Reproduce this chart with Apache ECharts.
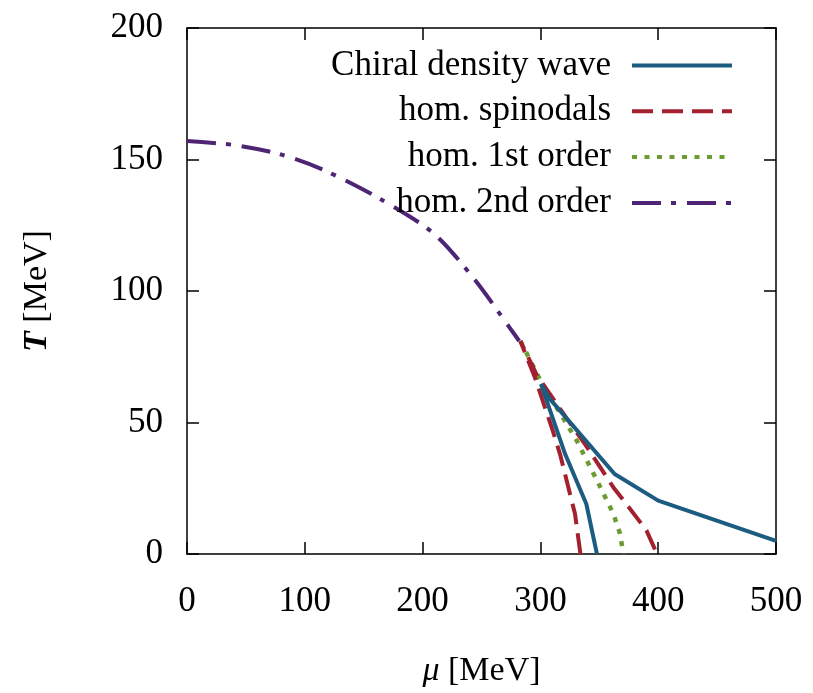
<!DOCTYPE html>
<html>
<head>
<meta charset="utf-8">
<script src="https://cdn.jsdelivr.net/npm/echarts@6/dist/echarts.min.js"></script>
<style>html,body{margin:0;padding:0;background:#fff;}#c{width:813px;height:693px;}</style>
</head>
<body>
<div id="c"></div>
<script>
// Data (mu [MeV], T [MeV])
const cdwMu = [348, 339, 321, 300.5, 308, 363, 400, 500];
const cdwT  = [0, 19, 38, 64.6, 59, 30.4, 20.3, 5];

const spinMu = [334, 329.4, 316.7, 309.7, 295.5, 283, 297, 324, 339, 362, 373, 390, 399];
const spinT  = [0, 15.2, 37.9, 48, 66.9, 81, 68, 50.5, 41, 25.3, 19, 9, 0];

const firstMu = [283, 300, 331, 348, 362, 367.6, 370.4];
const firstT  = [81, 66, 43, 28, 15.2, 7.7, 0];

const secondMu = [0, 40, 79, 116, 164, 209, 243, 274, 282];
const secondT  = [157, 155.5, 152, 146, 135, 122, 105, 86, 81];

const seriesNames = ['Chiral density wave', 'hom. spinodals', 'hom. 1st order', 'hom. 2nd order'];
const xTicks = [0, 500, 100];
const yTicks = [0, 200, 50];

const pairs = (xs, ys) => xs.map((x, i) => [x, ys[i]]);

const FONT = '"Liberation Serif", "DejaVu Serif", serif';
const chart = echarts.init(document.getElementById('c'), null, {renderer: 'canvas'});

const mkLine = () => ({show: true, onZero: false, lineStyle: {color: '#000', width: 1.5}});
const mkTick = () => ({show: true, inside: true, length: 12, lineStyle: {color: '#000', width: 1.5}});

chart.setOption({
  animation: false,
  backgroundColor: '#fff',
  grid: {left: 187, right: 37, top: 28, bottom: 136, containLabel: false},
  legend: {
    orient: 'vertical',
    align: 'right',
    right: 74,
    top: 43,
    itemWidth: 100,
    itemHeight: 14,
    itemGap: 10.8,
    data: seriesNames,
    itemStyle: {color: 'rgba(0,0,0,0)', borderWidth: 0, borderColor: 'rgba(0,0,0,0)'},
    lineStyle: {width: 4},
    textStyle: {fontFamily: FONT, fontSize: 35, color: '#000', lineHeight: 34, padding: [0, 16, 0, 0]}
  },
  xAxis: [{
    type: 'value', min: xTicks[0], max: xTicks[1], interval: xTicks[2],
    position: 'bottom',
    axisLine: mkLine(), axisTick: mkTick(), splitLine: {show: false},
    axisLabel: {fontFamily: FONT, fontSize: 35, color: '#000', margin: 30},
    name: '{i|μ} [MeV]', nameLocation: 'middle', nameGap: 100,
    nameTextStyle: {fontFamily: FONT, fontSize: 34, color: '#000', rich: {i: {fontFamily: FONT, fontSize: 34, fontStyle: 'italic', color: '#000'}}}
  }, {
    type: 'value', min: xTicks[0], max: xTicks[1], interval: xTicks[2],
    position: 'top', show: true,
    axisLine: mkLine(), axisTick: mkTick(), splitLine: {show: false}, axisLabel: {show: false}
  }],
  yAxis: [{
    type: 'value', min: yTicks[0], max: yTicks[1], interval: yTicks[2],
    position: 'left',
    axisLine: mkLine(), axisTick: mkTick(), splitLine: {show: false},
    axisLabel: {fontFamily: FONT, fontSize: 35, color: '#000', margin: 24},
    name: '{i|T} [MeV]', nameLocation: 'middle', nameGap: 133, nameRotate: 90,
    nameTextStyle: {fontFamily: FONT, fontSize: 34, color: '#000', rich: {i: {fontFamily: FONT, fontSize: 34, fontStyle: 'italic', fontWeight: 'bold', color: '#000'}}}
  }, {
    type: 'value', min: yTicks[0], max: yTicks[1], interval: yTicks[2],
    position: 'right', show: true,
    axisLine: mkLine(), axisTick: mkTick(), splitLine: {show: false}, axisLabel: {show: false}
  }],
  series: [
    {name: seriesNames[0], type: 'line', symbol: 'none', data: pairs(cdwMu, cdwT),
     lineStyle: {color: '#1c5c80', width: 4, type: 'solid'}, itemStyle: {color: '#1c5c80'}, z: 5},
    {name: seriesNames[1], type: 'line', symbol: 'none', data: pairs(spinMu, spinT),
     lineStyle: {color: '#a3202f', width: 4, type: [21, 9]}, itemStyle: {color: '#a3202f'}, z: 4},
    {name: seriesNames[2], type: 'line', symbol: 'none', data: pairs(firstMu, firstT),
     lineStyle: {color: '#6c9b32', width: 4.5, type: [5, 7.5]}, itemStyle: {color: '#6c9b32'}, z: 3},
    {name: seriesNames[3], type: 'line', symbol: 'none', smooth: 0.3, data: pairs(secondMu, secondT),
     lineStyle: {color: '#4e2474', width: 4, type: [29, 10, 5, 11]}, itemStyle: {color: '#4e2474'}, z: 2}
  ]
});
</script>
</body>
</html>
